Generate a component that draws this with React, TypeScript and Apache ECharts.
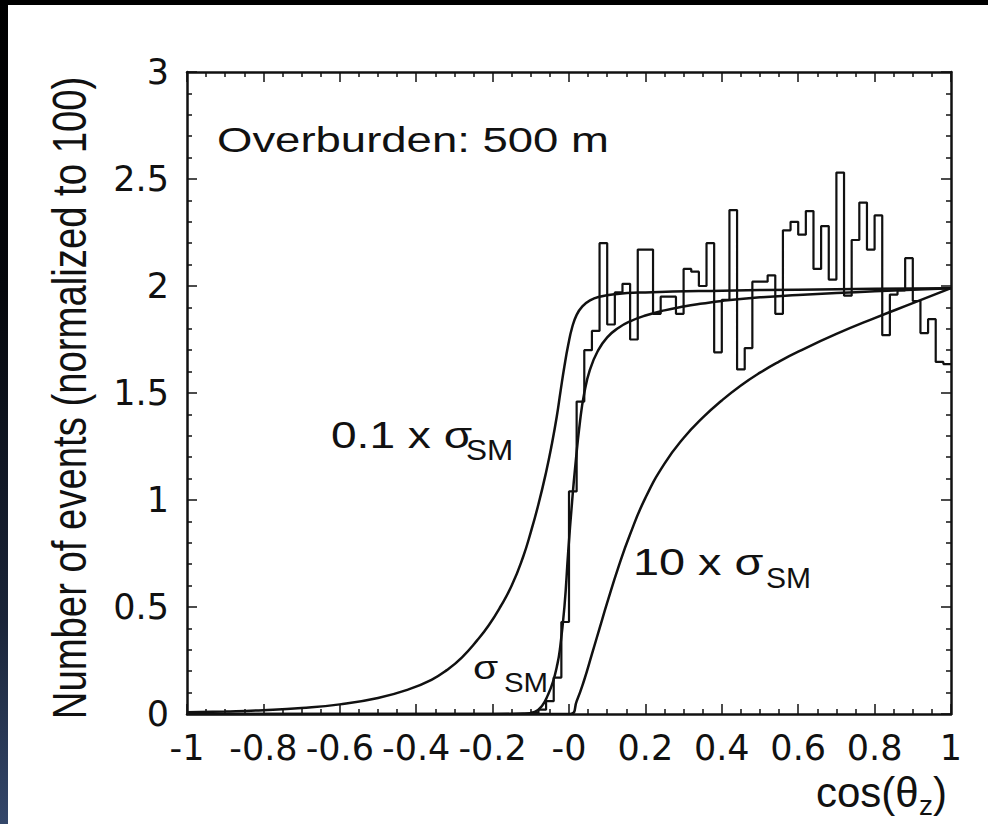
import React, { useEffect, useRef } from "react";
import * as echarts from "echarts";

// ---- data ----
const xTickValues = [-1, -0.8, -0.6, -0.4, -0.2, 0, 0.2, 0.4, 0.6, 0.8, 1];
const yTickLabels = ["0", "0.5", "1", "1.5", "2", "2.5", "3"];

// histogram: bin width 0.02, first non-empty bin starts at -0.1
const histStart = -0.1;
const histBinWidth = 0.02;
const histCounts = [
  0.005, 0.02, 0.06, 0.17, 0.43, 1.04, 1.46, 1.7, 1.79, 2.2,
  1.82, 1.97, 2.01, 1.75, 2.17, 2.17, 1.87, 1.95, 1.95, 1.87,
  2.08, 2.067, 2.0, 2.2, 1.69, 1.935, 2.355, 1.61, 1.71, 2.02,
  2.02, 2.05, 1.87, 2.26, 2.3, 2.24, 2.35, 2.08, 2.28, 2.03,
  2.53, 1.955, 2.215, 2.39, 2.17, 2.33, 1.77, 1.96, 1.98, 2.13,
  1.93, 1.78, 1.845, 1.645, 1.635,
];

// 0.1 x sigma_SM
const curveLow: number[][] = [
  [-1, 0.008], [-0.9, 0.012], [-0.8, 0.018], [-0.7, 0.028], [-0.6, 0.045],
  [-0.5, 0.075], [-0.42, 0.115], [-0.36, 0.16], [-0.32, 0.205], [-0.28, 0.265],
  [-0.24, 0.345], [-0.21, 0.415], [-0.18, 0.5], [-0.15, 0.6], [-0.12, 0.735],
  [-0.1, 0.85], [-0.08, 0.98], [-0.06, 1.13], [-0.045, 1.26], [-0.032, 1.39],
  [-0.022, 1.51], [-0.012, 1.625], [-0.002, 1.725], [0.008, 1.805], [0.02, 1.865],
  [0.035, 1.905], [0.055, 1.933], [0.08, 1.95], [0.12, 1.962], [0.2, 1.97],
  [0.4, 1.978], [0.6, 1.983], [0.8, 1.987], [1.0, 1.99],
];

// sigma_SM
const curveSM: number[][] = [
  [-1, 0], [-0.2, 0], [-0.12, 0.002], [-0.09, 0.01], [-0.07, 0.04],
  [-0.055, 0.09], [-0.042, 0.15], [-0.032, 0.22], [-0.024, 0.3], [-0.012, 0.5],
  [-0.002, 0.76], [0.008, 0.99], [0.016, 1.15], [0.029, 1.37], [0.04, 1.5],
  [0.055, 1.61], [0.075, 1.695], [0.1, 1.76], [0.13, 1.805], [0.16, 1.835],
  [0.2, 1.862], [0.25, 1.886], [0.3, 1.904], [0.35, 1.918], [0.4, 1.93],
  [0.5, 1.947], [0.6, 1.958], [0.7, 1.967], [0.8, 1.975], [0.9, 1.982], [1.0, 1.99],
];

// 10 x sigma_SM
const curveHigh: number[][] = [
  [-1, 0], [0.003, 0], [0.02, 0.06], [0.04, 0.16], [0.06, 0.28], [0.08, 0.4],
  [0.1, 0.52], [0.13, 0.69], [0.16, 0.84], [0.2, 1.01], [0.25, 1.17],
  [0.3, 1.29], [0.35, 1.385], [0.4, 1.465], [0.45, 1.535], [0.5, 1.595],
  [0.55, 1.647], [0.6, 1.693], [0.7, 1.776], [0.8, 1.85], [0.9, 1.92], [1.0, 1.99],
];

const FONT = "'Liberation Sans', Arial, Helvetica, sans-serif";
const TICK_FONT = "'DejaVu Sans', 'Liberation Sans', sans-serif";
const INK = "#111";

function histogramSteps(): number[][] {
  const pts: number[][] = [[-1, 0]];
  histCounts.forEach((v, i) => {
    pts.push([+(histStart + i * histBinWidth).toFixed(4), v]);
  });
  pts.push([+(histStart + histCounts.length * histBinWidth).toFixed(4), histCounts[histCounts.length - 1]]);
  return pts;
}

function txt(
  text: string,
  x: number,
  y: number,
  fontSize: number,
  opts: { align?: string; scaleX?: number; scaleY?: number; rotation?: number } = {}
) {
  const align = opts.align || "left";
  return {
    type: "text",
    x,
    y,
    scaleX: opts.scaleX ?? 1,
    scaleY: opts.scaleY ?? 1,
    rotation: opts.rotation ?? 0,
    silent: true,
    z: 50,
    style: {
      text,
      fontSize,
      fontFamily: FONT,
      fill: INK,
      align,
      verticalAlign: "middle",
      textAlign: align,
      textVerticalAlign: "middle",
    },
  };
}

export default function App() {
  const ref = useRef<HTMLDivElement>(null);

  useEffect(() => {
    if (!ref.current) return;
    const chart = echarts.init(ref.current, undefined, { renderer: "svg" });

    const xAxisBase = {
      type: "value",
      min: -1,
      max: 1,
      interval: 0.2,
      axisLine: { show: true, onZero: false, lineStyle: { color: INK, width: 2.5 } },
      axisTick: { show: true, inside: true, length: 10, lineStyle: { color: INK, width: 1.5 } },
      minorTick: { show: true, splitNumber: 4, length: 5, lineStyle: { color: INK, width: 1.5 } },
      splitLine: { show: false },
      minorSplitLine: { show: false },
    };
    const yAxisBase = {
      type: "value",
      min: 0,
      max: 3,
      interval: 0.5,
      axisLine: { show: true, onZero: false, lineStyle: { color: INK, width: 2.5 } },
      axisTick: { show: true, inside: true, length: 10, lineStyle: { color: INK, width: 1.5 } },
      minorTick: { show: true, splitNumber: 5, length: 5, lineStyle: { color: INK, width: 1.5 } },
      splitLine: { show: false },
      minorSplitLine: { show: false },
    };

    const lineCommon = {
      type: "line",
      showSymbol: false,
      symbol: "none",
      clip: true,
      xAxisIndex: 0,
      yAxisIndex: 0,
    };

    chart.setOption({
      animation: false,
      backgroundColor: "transparent",
      grid: { left: 187, top: 72, right: 37, bottom: 110, containLabel: false },
      xAxis: [
        {
          ...xAxisBase,
          position: "bottom",
          axisLabel: {
            show: true,
            margin: 16,
            fontSize: 35,
            fontFamily: TICK_FONT,
            color: INK,
            customValues: xTickValues,
            formatter: (v: number) => {
              const r = Math.round(v * 10) / 10;
              if (Math.abs(r) < 1e-9) return "-0";
              return String(r);
            },
          },
        },
        { ...xAxisBase, position: "top", axisLabel: { show: false } },
      ],
      yAxis: [
        {
          ...yAxisBase,
          position: "left",
          axisLabel: {
            show: true,
            margin: 18,
            fontSize: 35,
            fontFamily: TICK_FONT,
            color: INK,
            formatter: (v: number) => {
              const idx = Math.round(v / 0.5);
              return yTickLabels[idx] ?? String(v);
            },
          },
        },
        { ...yAxisBase, position: "right", axisLabel: { show: false } },
      ],
      series: [
        {
          ...lineCommon,
          name: "hist",
          data: histogramSteps(),
          step: "end",
          lineStyle: { color: INK, width: 2.2 },
          z: 3,
        },
        {
          ...lineCommon,
          name: "0.1 x sigma_SM",
          data: curveLow,
          smooth: 0.5,
          lineStyle: { color: INK, width: 2.5 },
          z: 4,
        },
        {
          ...lineCommon,
          name: "sigma_SM",
          data: curveSM,
          smooth: 0.5,
          lineStyle: { color: INK, width: 2.5 },
          z: 4,
        },
        {
          ...lineCommon,
          name: "10 x sigma_SM",
          data: curveHigh,
          smooth: 0.5,
          lineStyle: { color: INK, width: 2.5 },
          z: 4,
        },
      ],
      graphic: [
        txt("Number of events (normalized to 100)", 70, 398, 37, {
          align: "center",
          rotation: Math.PI / 2,
          scaleX: 1.035,
          scaleY: 1.28,
        }),
        txt("Overburden: 500 m", 217, 140, 35, { scaleX: 1.3 }),
        txt("0.1 x σ", 331, 436, 36, { scaleX: 1.28 }),
        txt("SM", 466, 450, 30, { scaleX: 1.05 }),
        txt("σ", 473, 667, 34, { scaleX: 1.2 }),
        txt("SM", 504, 682, 28, { scaleX: 1.05 }),
        txt("10 x σ", 633, 562, 36, { scaleX: 1.3 }),
        txt("SM", 766, 577, 30, { scaleX: 1.0 }),
        txt("cos(θ", 816, 792, 42),
        txt("z", 919, 805, 28),
        txt(")", 933, 792, 42),
      ],
    });

    return () => chart.dispose();
  }, []);

  return (
    <div
      style={{
        position: "absolute",
        left: 0,
        top: 0,
        width: 988,
        height: 824,
        background: "#000",
        overflow: "hidden",
      }}
    >
      <div
        style={{
          position: "absolute",
          left: 0,
          top: 0,
          width: 8,
          height: 824,
          background: "linear-gradient(to bottom, #000 0%, #05070c 35%, #1a2438 75%, #34476a 100%)",
        }}
      />
      <div
        style={{ position: "absolute", left: 8, top: 5, width: 980, height: 819, background: "#fff" }}
      />
      <div ref={ref} style={{ position: "absolute", left: 0, top: 0, width: 988, height: 824 }} />
    </div>
  );
}
